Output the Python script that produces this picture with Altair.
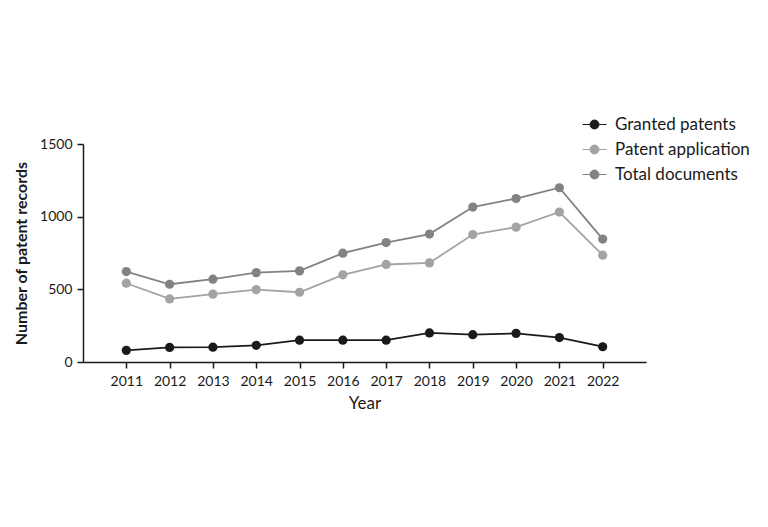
import altair as alt
import pandas as pd

years = [2011, 2012, 2013, 2014, 2015, 2016, 2017, 2018, 2019, 2020, 2021, 2022]
granted = [80, 100, 102, 115, 150, 150, 150, 200, 188, 197, 168, 105]
application = [542, 434, 467, 498, 480, 600, 671, 682, 877, 928, 1032, 735]
total = [622, 535, 570, 615, 627, 749, 822, 880, 1066, 1125, 1199, 846]

series_names = ["Granted patents", "Patent application", "Total documents"]
series_colors = ["#1a1a1a", "#a3a3a3", "#828282"]

rows = []
for name, vals in zip(series_names, [granted, application, total]):
    for y, v in zip(years, vals):
        rows.append({"Year": y, "Value": v, "Series": name})
df = pd.DataFrame(rows)

FONT = "Lato"
legend_symbol = ("M-1,0 L-0.375,0 M0.375,0 L1,0 "
                 "M-0.375,0 A0.375,0.375 0 1,1 0.375,0 A0.375,0.375 0 1,1 -0.375,0 Z")

color = alt.Color(
    "Series:N",
    scale=alt.Scale(domain=series_names, range=series_colors),
    legend=alt.Legend(
        title=None, orient="none", legendX=499, legendY=-32,
        symbolType=legend_symbol, symbolSize=576, symbolStrokeWidth=1,
        labelFontSize=17, labelFont=FONT, labelColor="#1a1a1a",
        labelOffset=8, rowPadding=4,
    ),
)

x = alt.X(
    "Year:Q",
    scale=alt.Scale(domain=[2010, 2023], nice=False, zero=False),
    axis=alt.Axis(values=years, format="d", grid=False, domainColor="#1a1a1a",
                  domainWidth=1.5, tickColor="#1a1a1a", tickWidth=1.5, tickSize=6,
                  labelFont=FONT, labelFontSize=14, labelColor="#1a1a1a", labelPadding=6,
                  title="Year", titleFont=FONT, titleFontSize=17, titleFontWeight="normal",
                  titleColor="#1a1a1a", titlePadding=7),
)
y = alt.Y(
    "Value:Q",
    scale=alt.Scale(domain=[0, 1500], nice=False),
    axis=alt.Axis(values=[0, 500, 1000, 1500], format="d", grid=False, domainColor="#1a1a1a",
                  domainWidth=1.5, tickColor="#1a1a1a", tickWidth=1.5, tickSize=6,
                  labelFont=FONT, labelFontSize=14, labelColor="#1a1a1a", labelPadding=5,
                  title="Number of patent records", titleFont=FONT, titleFontSize=16,
                  titleFontWeight="bold", titleColor="#1a1a1a", titlePadding=10),
)

base = alt.Chart(df).encode(x=x, y=y, color=color)
lines = base.mark_line(strokeWidth=1.8)
points = base.mark_point(filled=True, size=85, opacity=1)

chart = (lines + points).properties(
    width=563, height=218,
    padding={"left": 83, "top": 144, "right": 122, "bottom": 165},
    autosize="none",
    background="white",
).configure_view(stroke=None)

chart.save("out.html", embed_options={"renderer": "svg", "actions": False})
